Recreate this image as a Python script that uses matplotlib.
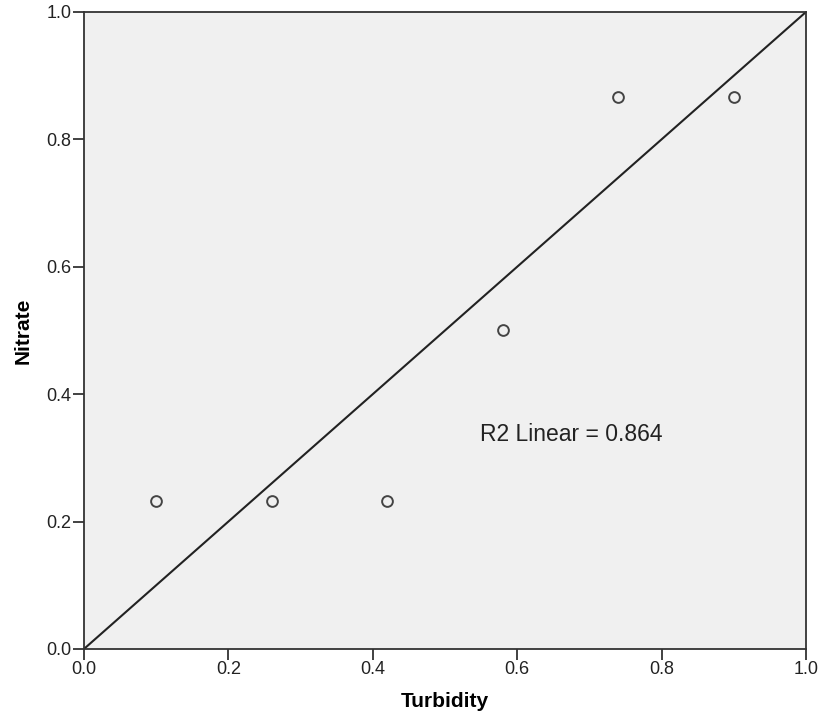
import matplotlib.pyplot as plt

plt.rcParams['font.family'] = ['Liberation Sans', 'DejaVu Sans']

# scatter data
turbidity = [0.10, 0.26, 0.42, 0.58, 0.74, 0.90]
nitrate = [0.233, 0.233, 0.233, 0.50, 0.866, 0.866]

# fit line end points
fit_x = [0.0, 1.0]
fit_y = [0.0, 1.0]
r2_text = 'R2 Linear = 0.864'

ticks = [0.0, 0.2, 0.4, 0.6, 0.8, 1.0]

fig = plt.figure(figsize=(8.2, 7.17), dpi=100)
ax = fig.add_axes([0.1024, 0.0949, 0.8805, 0.8884])
ax.set_facecolor('#f0f0f0')

ax.plot(fit_x, fit_y, color='#222222', linewidth=1.5, zorder=2)
ax.scatter(turbidity, nitrate, s=60, facecolors='#f0f0f0', edgecolors='#444444',
           linewidths=1.4, zorder=3)
ax.text(0.549, 0.337, r2_text, fontsize=16.5, color='#222222', va='center')

ax.set_xlim(0, 1)
ax.set_ylim(0, 1)
ax.set_xticks(ticks)
ax.set_yticks(ticks)
ax.set_xticklabels([f'{t:.1f}' for t in ticks])
ax.set_yticklabels([f'{t:.1f}' for t in ticks])
ax.tick_params(direction='out', length=8, width=1.3, color='#333333',
               labelsize=13, labelcolor='#222222', pad=1)
for sp in ax.spines.values():
    sp.set_color('#333333')
    sp.set_linewidth(1.3)

ax.set_xlabel('Turbidity', fontsize=15, fontweight='bold', labelpad=10)
ax.set_ylabel('Nitrate', fontsize=15, fontweight='bold', labelpad=10)

fig.savefig('out.png', dpi=100)
